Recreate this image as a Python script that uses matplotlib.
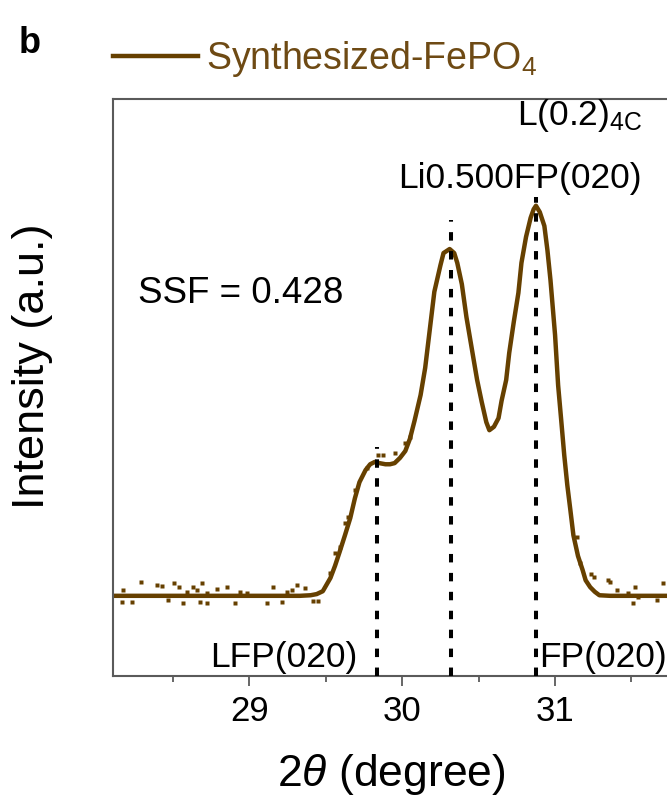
import matplotlib
matplotlib.use("Agg")
import matplotlib.pyplot as plt
from matplotlib.ticker import FixedLocator, NullLocator

plt.rcParams['font.family'] = ['Liberation Sans', 'DejaVu Sans']
plt.rcParams['mathtext.fontset'] = 'custom'
plt.rcParams['mathtext.rm'] = 'Liberation Sans'
plt.rcParams['mathtext.it'] = 'Liberation Sans:italic'
plt.rcParams['mathtext.bf'] = 'Liberation Sans:bold'

# Fitted (020) profile, normalised intensity
fit_two_theta = [28.10, 28.60, 29.10, 29.33, 29.40, 29.44, 29.48, 29.53, 29.56, 29.59,
                 29.625, 29.66, 29.69, 29.72, 29.76, 29.79, 29.82, 29.85, 29.89, 29.92,
                 29.95, 29.985, 30.02, 30.05, 30.08, 30.12, 30.15, 30.18, 30.21, 30.25,
                 30.27, 30.31, 30.34, 30.36, 30.39, 30.42, 30.47, 30.49, 30.52, 30.55,
                 30.57, 30.60, 30.63, 30.65, 30.68, 30.70, 30.73, 30.76, 30.78, 30.81,
                 30.84, 30.86, 30.875, 30.90, 30.93, 30.95, 30.97, 31.00, 31.02, 31.04,
                 31.06, 31.08, 31.10, 31.12, 31.15, 31.18, 31.20, 31.23, 31.26, 31.29,
                 31.36, 32.20]
fit_intensity = [0.139, 0.139, 0.139, 0.139, 0.140, 0.142, 0.147, 0.170, 0.191, 0.215,
                 0.244, 0.274, 0.308, 0.336, 0.357, 0.367, 0.371, 0.369, 0.367, 0.367,
                 0.369, 0.378, 0.390, 0.411, 0.442, 0.487, 0.534, 0.600, 0.666, 0.712,
                 0.733, 0.740, 0.733, 0.716, 0.679, 0.622, 0.544, 0.513, 0.475, 0.440,
                 0.426, 0.432, 0.447, 0.477, 0.513, 0.560, 0.614, 0.664, 0.716, 0.761,
                 0.794, 0.809, 0.815, 0.804, 0.780, 0.738, 0.686, 0.591, 0.504, 0.444,
                 0.383, 0.331, 0.288, 0.244, 0.208, 0.184, 0.166, 0.154, 0.146, 0.140,
                 0.139, 0.139]

# Measured points that stand off the fit
obs_two_theta = [28.172, 28.166, 28.231, 28.290, 28.395, 28.427, 28.466, 28.506, 28.539, 28.565,
                 28.591, 28.630, 28.656, 28.689, 28.676, 28.722, 28.722, 28.787, 28.853, 28.905,
                 28.938, 28.984, 29.115, 29.154, 29.213, 29.245, 29.278, 29.311, 29.363, 29.416,
                 29.448, 29.527, 29.560, 29.592, 29.625, 29.645, 29.690, 29.769, 29.841, 29.874,
                 29.952, 30.018, 30.050, 31.143, 31.163, 31.235, 31.255, 31.346, 31.359, 31.405,
                 31.477, 31.510, 31.523, 31.543, 31.667, 31.706]
obs_intensity = [0.149, 0.128, 0.128, 0.163, 0.158, 0.156, 0.132, 0.161, 0.154, 0.127,
                 0.146, 0.154, 0.149, 0.161, 0.128, 0.127, 0.144, 0.151, 0.154, 0.127,
                 0.146, 0.144, 0.127, 0.154, 0.128, 0.146, 0.149, 0.158, 0.153, 0.130,
                 0.130, 0.179, 0.213, 0.224, 0.265, 0.276, 0.322, 0.360, 0.383, 0.383,
                 0.386, 0.404, 0.414, 0.241, 0.196, 0.177, 0.172, 0.166, 0.163, 0.149,
                 0.144, 0.127, 0.154, 0.137, 0.132, 0.161]

# Reference (020) positions of the three phases
peak_names = ['LFP(020)', 'Li0.500FP(020)', 'FP(020)']
peak_two_theta = [29.834, 30.319, 30.878]
peak_marker_top = [0.397, 0.790, 0.830]

major_ticks = [29, 30, 31]
minor_ticks = [28.5, 29.5, 30.5, 31.5]
major_labels = ['29', '30', '31']

series_label = 'Synthesized-FePO$_4$'
sample_label = 'L(0.2)$_{\\mathrm{4C}}$'
ssf_label = 'SSF = 0.428'

brown = '#664000'
text_brown = '#6E4A14'
spine_grey = '#5a5a5a'

fig = plt.figure(figsize=(6.67, 7.99), dpi=100)
ax = fig.add_axes([0.1694, 0.1539, 0.9377, 0.7222])
ax.set_xlim(28.107, 32.2)
ax.set_ylim(0, 1)

fit_line, = ax.plot(fit_two_theta, fit_intensity, color=brown, lw=3.2,
                    solid_joinstyle='round', label=series_label, zorder=2)
ax.plot(obs_two_theta, obs_intensity, ls='none', marker='s', ms=2.3,
        mec='none', mfc=brown, zorder=3)

for pos, top in zip(peak_two_theta, peak_marker_top):
    ax.plot([pos, pos], [0, top], color='black', lw=2.9,
            ls=(0, (2.1, 2.6)), zorder=4)

# annotations
ax.text(28.741, 0.0156, peak_names[0], fontsize=25.5, va='baseline', ha='left')
ax.text(29.972, 0.846, peak_names[1], fontsize=25.5, va='baseline', ha='left')
ax.text(30.895, 0.0156, peak_names[2], fontsize=25.5, va='baseline', ha='left')
ax.text(30.751, 0.955, sample_label, fontsize=25.5, va='baseline', ha='left')
ax.text(28.270, 0.646, ssf_label, fontsize=26.5, va='baseline', ha='left')

# axes styling
for side in ['left', 'right', 'top', 'bottom']:
    ax.spines[side].set_color(spine_grey)
    ax.spines[side].set_linewidth(1.5)
ax.yaxis.set_major_locator(NullLocator())
ax.xaxis.set_major_locator(FixedLocator(major_ticks))
ax.xaxis.set_minor_locator(FixedLocator(minor_ticks))
ax.set_xticklabels(major_labels)
ax.tick_params(axis='x', which='major', direction='out', length=7, width=1.3,
               color=spine_grey, labelsize=25, pad=7)
ax.tick_params(axis='x', which='minor', direction='out', length=4, width=1.3,
               color=spine_grey)

ax.set_xlabel('2$\\theta$ (degree)', fontsize=32)
ax.xaxis.set_label_coords(0.4445, -0.132)
ax.set_ylabel('Intensity (a.u.)', fontsize=32.5)
ax.yaxis.set_label_coords(-0.096, 0.536)

ax.legend(handles=[fit_line], loc='upper left',
          bbox_to_anchor=(113 / 667, 1 - 39 / 799), bbox_transform=fig.transFigure,
          frameon=False, borderpad=0, borderaxespad=0,
          handlelength=2.27, handletextpad=0.21, labelcolor=text_brown,
          prop={'family': 'Liberation Sans', 'size': 27})

fig.text(19 / 667, 1 - 53 / 799, 'b', fontsize=26, fontweight='bold',
         va='baseline', ha='left')

fig.savefig('out.png', dpi=100)
